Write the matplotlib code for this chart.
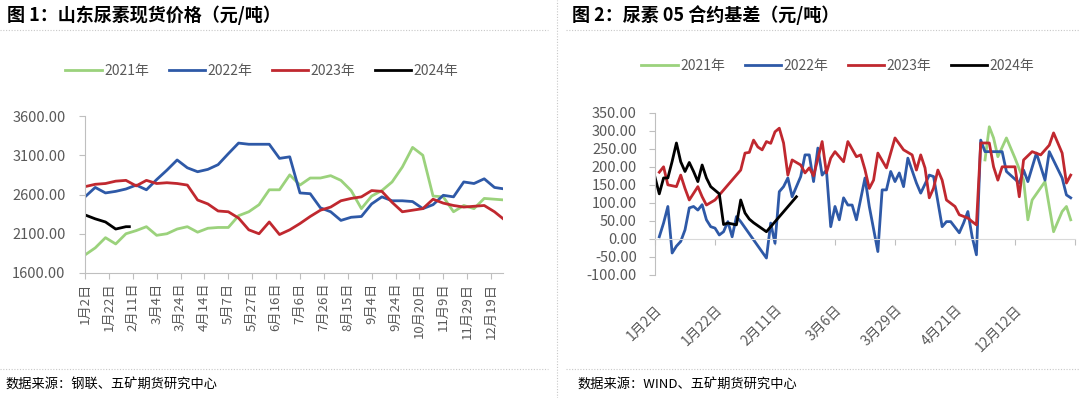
import numpy as np
import matplotlib
matplotlib.use("Agg")
import matplotlib.pyplot as plt
from matplotlib.lines import Line2D

plt.rcParams['font.family'] = ['Noto Sans CJK SC', 'DejaVu Sans']
plt.rcParams['axes.unicode_minus'] = False

# ---------------- data: figure 1 (spot price, yuan/ton) ----------------
series_names = ['2021年', '2022年', '2023年', '2024年']
colors = ['#9BD27C', '#2E59A7', '#C0282F', '#000000']

# trading-day index, sampled every 6 days
days_1 = np.arange(0, 247, 6)
price_2021 = [1830, 1920, 2050, 1970, 2100, 2140, 2190, 2080, 2100, 2160,
              2190, 2120, 2170, 2180, 2180, 2330, 2380, 2470, 2660, 2660,
              2850, 2720, 2810, 2810, 2840, 2780, 2650, 2420, 2580, 2650,
              2760, 2950, 3200, 3100, 2580, 2570, 2380, 2460, 2420, 2550,
              2540, 2530]
price_2022 = [2570, 2690, 2620, 2640, 2670, 2720, 2660, 2790, 2910, 3040,
              2940, 2890, 2920, 2980, 3120, 3255, 3240, 3240, 3240, 3060,
              3080, 2620, 2610, 2430, 2380, 2270, 2310, 2320, 2480, 2570,
              2520, 2520, 2510, 2420, 2470, 2590, 2570, 2760, 2740, 2800,
              2690, 2670]
price_2023 = [2700, 2730, 2740, 2770, 2780, 2710, 2780, 2740, 2750, 2740,
              2720, 2530, 2480, 2390, 2380, 2300, 2150, 2100, 2250, 2090,
              2150, 2230, 2320, 2400, 2440, 2520, 2550, 2570, 2650, 2640,
              2500, 2380, 2400, 2420, 2540, 2490, 2460, 2440, 2450, 2460,
              2380, 2275]
days_2024 = [0, 6, 12, 18, 24, 26]
price_2024 = [2340, 2290, 2250, 2160, 2190, 2190]

labels_1 = ['1月2日', '1月22日', '2月11日', '3月4日', '3月24日', '4月14日',
            '5月7日', '5月27日', '6月16日', '7月6日', '7月26日', '8月15日',
            '9月4日', '9月24日', '10月20日', '11月9日', '11月29日', '12月19日']

# ---------------- data: figure 2 (05 contract basis, yuan/ton) ----------------
b21_x = [77, 78, 79, 80, 82, 84, 86, 87, 88, 91, 93, 95, 96, 97]
b21_y = [219, 311, 280, 228, 280, 224, 163, 53, 108, 159, 20, 76, 90, 53]

b22_x = [1, 2, 3, 4, 5, 6, 7, 8, 9, 10,
         11, 12, 13, 14, 15, 16, 17, 18, 19, 20,
         26, 27, 28, 29, 30, 31, 32, 34, 35, 36,
         37, 38, 39, 40, 41, 42, 43, 44, 45, 46,
         47, 49, 50, 52, 53, 54, 55, 56, 57, 58,
         59, 61, 62, 64, 65, 67, 68, 69, 71, 72,
         73, 74, 75, 76, 77, 81, 82, 85, 86, 87,
         89, 91, 92, 95, 96, 97]
b22_y = [6, 44, 90, -39, -20, -7, 25, 86, 90, 80,
         95, 53, 34, 30, 11, 20, 48, 6, 62, 48,
         -53, 44, -12, 131, 145, 169, 117, 173, 233, 233,
         159, 252, 177, 191, 34, 90, 53, 114, 94, 94,
         53, 169, 90, -35, 136, 136, 187, 159, 183, 145,
         224, 155, 127, 177, 173, 34, 48, 48, 17, 44,
         76, 6, -44, 274, 242, 242, 187, 155, 191, 159,
         238, 163, 242, 169, 122, 114]

b23_x = [1, 2, 3, 5, 6, 7, 8, 10, 11, 12,
         14, 20, 21, 22, 23, 24, 25, 26, 27, 28,
         29, 30, 31, 32, 34, 35, 36, 37, 39, 40,
         41, 42, 44, 45, 47, 48, 49, 50, 51, 52,
         54, 56, 58, 60, 61, 62, 63, 64, 65, 66,
         67, 68, 70, 71, 73, 74, 75, 76, 78, 79,
         80, 81, 84, 85, 86, 88, 90, 92, 93, 95,
         96, 97]
b23_y = [185, 200, 150, 145, 177, 140, 108, 145, 117, 94,
         108, 191, 238, 240, 274, 255, 247, 270, 265, 297,
         307, 266, 177, 219, 205, 183, 197, 175, 270, 183,
         224, 242, 214, 270, 228, 233, 192, 140, 163, 238,
         197, 280, 247, 233, 191, 233, 197, 114, 141, 191,
         163, 108, 90, 67, 58, 48, 39, 266, 266, 200,
         163, 200, 200, 117, 219, 242, 233, 260, 294, 238,
         155, 177]

b24_x = [0, 1, 2, 3, 4, 5, 6, 7, 8, 9,
         10, 11, 12, 13, 14, 15, 16, 17, 19, 20,
         21, 22, 23, 26, 33]
b24_y = [171, 125, 169, 169, 215, 266, 214, 187, 212, 187,
         159, 205, 169, 145, 135, 125, 40, 44, 39, 108,
         72, 55, 45, 20, 117]

labels_2 = ['1月2日', '1月22日', '2月11日', '3月6日', '3月29日', '4月21日', '12月12日']

W, H = 1080, 398
fig = plt.figure(figsize=(W / 100, H / 100), dpi=100)
grey_txt = '#595959'
axis_grey = '#BFBFBF'
lw = 2.0

# ---- frame: titles, dotted separators, sources ----
fig.text(7 / W, 1 - 15 / H, '图 1：山东尿素现货价格（元/吨）', fontsize=13,
         fontweight='bold', va='center', ha='left')
fig.text(572 / W, 1 - 15 / H, '图 2：尿素 05 合约基差（元/吨）', fontsize=13,
         fontweight='bold', va='center', ha='left')
fig.text(5 / W, 1 - 385 / H, '数据来源：钢联、五矿期货研究中心', fontsize=9.5,
         va='center', ha='left')
fig.text(577 / W, 1 - 385 / H, '数据来源：WIND、五矿期货研究中心', fontsize=9.5,
         va='center', ha='left')
sep = dict(color='#C8C8C8', lw=0.8, ls=(0, (1, 1.5)), transform=fig.transFigure)
fig.add_artist(Line2D([0, 548 / W], [1 - 30 / H] * 2, **sep))
fig.add_artist(Line2D([566 / W, 1], [1 - 30 / H] * 2, **sep))
fig.add_artist(Line2D([0, 548 / W], [1 - 369 / H] * 2, **sep))
fig.add_artist(Line2D([566 / W, 1], [1 - 369 / H] * 2, **sep))
fig.add_artist(Line2D([557 / W] * 2, [0, 1], **sep))

# ---------------- figure 1 ----------------
ax1 = fig.add_axes([85 / W, 1 - 273 / H, (503 - 85) / W, (273 - 116) / H])
ax1.plot(days_1, price_2021, color=colors[0], lw=lw, label=series_names[0])
ax1.plot(days_1, price_2022, color=colors[1], lw=lw, label=series_names[1])
ax1.plot(days_1, price_2023, color=colors[2], lw=lw, label=series_names[2])
ax1.plot(days_2024, price_2024, color=colors[3], lw=lw, label=series_names[3])
ax1.set_xlim(0, 245)
ax1.set_ylim(1600, 3600)
ax1.set_yticks(np.arange(1600, 3601, 500))
ax1.set_yticklabels(['%.2f' % v for v in np.arange(1600, 3601, 500)])
ax1.set_xticks(np.arange(len(labels_1)) * 14)
ax1.set_xticklabels(labels_1, rotation=90, va='top', ha='center')
for s in ['top', 'right']:
    ax1.spines[s].set_visible(False)
for s in ['left', 'bottom']:
    ax1.spines[s].set_color(axis_grey)
ax1.tick_params(axis='both', colors=axis_grey, labelcolor=grey_txt, length=4)
ax1.tick_params(axis='y', labelsize=10.5, pad=10)
ax1.tick_params(axis='x', labelsize=9.5, pad=3)
ax1.legend(loc='center', bbox_to_anchor=(262 / W, 1 - 71 / H),
           bbox_transform=fig.transFigure, ncol=4, frameon=False,
           fontsize=10, handlelength=2.6, handletextpad=0.2, columnspacing=1.4,
           labelcolor=grey_txt)

# ---------------- figure 2 ----------------
ax2 = fig.add_axes([655 / W, 1 - 275 / H, (1075 - 655) / W, (275 - 112.7) / H])
ax2.plot(b21_x, b21_y, color=colors[0], lw=lw, label=series_names[0])
ax2.plot(b22_x, b22_y, color=colors[1], lw=lw, label=series_names[1])
ax2.plot(b23_x, b23_y, color=colors[2], lw=lw, label=series_names[2])
ax2.plot(b24_x, b24_y, color=colors[3], lw=lw, label=series_names[3])
ax2.set_xlim(0, 98)
ax2.set_ylim(-100, 350)
ax2.set_yticks(np.arange(-100, 351, 50))
ax2.set_yticklabels(['%.2f' % v for v in np.arange(-100, 351, 50)])
ax2.spines['bottom'].set_position(('data', 0))
ax2.set_xticks(np.arange(0, 99, 14))
ax2.tick_params(axis='x', labelbottom=False, colors=axis_grey, length=4)
for s in ['top', 'right']:
    ax2.spines[s].set_visible(False)
for s in ['left', 'bottom']:
    ax2.spines[s].set_color('#D9D9D9')
ax2.spines['left'].set_color(axis_grey)
ax2.tick_params(axis='y', colors=axis_grey, labelcolor=grey_txt, labelsize=10.5,
                length=4, pad=9)
sec = ax2.secondary_xaxis('bottom')
sec.set_xticks(np.arange(len(labels_2)) * 14)
sec.set_xticklabels(labels_2, rotation=45, ha='right', rotation_mode='anchor')
sec.tick_params(length=0, pad=20, labelsize=10, labelcolor=grey_txt)
sec.spines['bottom'].set_visible(False)
ax2.legend(loc='center', bbox_to_anchor=(838 / W, 1 - 66 / H),
           bbox_transform=fig.transFigure, ncol=4, frameon=False,
           fontsize=10, handlelength=2.6, handletextpad=0.2, columnspacing=1.4,
           labelcolor=grey_txt)

fig.savefig('out.png', dpi=100)
